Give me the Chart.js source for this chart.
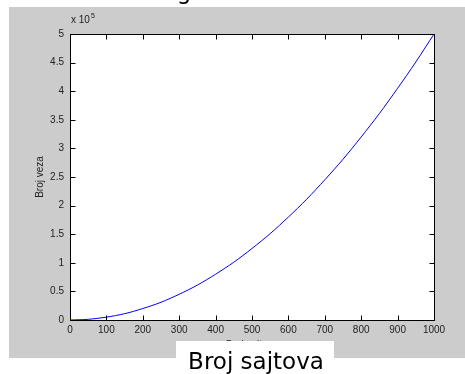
<!DOCTYPE html>
<html>
<head>
<meta charset="utf-8">
<script src="https://cdn.jsdelivr.net/npm/chart.js@4/dist/chart.umd.min.js"></script>
<style>
  body { margin: 0; background: #fff; }
  canvas { display: block; }
</style>
</head>
<body>
<canvas id="chart" width="465" height="374"></canvas>
<script>
// values
const brojSajtova = [0, 50, 100, 150, 200, 250, 300, 350, 400, 450, 500, 550, 600, 650, 700, 750, 800, 850, 900, 950, 1000];
const brojVeza = [0, 1200, 5000, 11000, 20000, 31000, 45000, 61000, 80000, 101000, 125000, 151000, 180000, 211000, 245000, 281000, 320000, 361000, 405000, 451000, 500000];
const xTicks = [0, 100, 200, 300, 400, 500, 600, 700, 800, 900, 1000];
const yTicks = [0, 50000, 100000, 150000, 200000, 250000, 300000, 350000, 400000, 450000, 500000];

const tickFont = "10px 'Liberation Sans', Arial, sans-serif";

// matlab-ish frame: grey figure, white axes, inward ticks on all sides
const matlabFrame = {
  id: "matlabFrame",
  beforeDraw(chart) {
    const { ctx, chartArea: a } = chart;
    ctx.save();
    ctx.fillStyle = "#ffffff";
    ctx.fillRect(0, 0, chart.width, chart.height);
    ctx.fillStyle = "#cccccc";
    ctx.fillRect(9, 7, chart.width - 9, 351);
    ctx.fillStyle = "#ffffff";
    ctx.fillRect(a.left, a.top, a.right - a.left, a.bottom - a.top);
    ctx.restore();
  },
  afterDraw(chart) {
    const { ctx, chartArea: a, scales } = chart;
    const L = Math.round(a.left) + 0.5, R = Math.round(a.right) + 0.5;
    const T = Math.round(a.top) + 0.5, B = Math.round(a.bottom) + 0.5;
    ctx.save();
    ctx.strokeStyle = "#000000";
    ctx.lineWidth = 1;
    ctx.strokeRect(L, T, R - L, B - T);
    ctx.beginPath();
    xTicks.forEach(v => {
      const x = Math.round(scales.x.getPixelForValue(v)) + 0.5;
      ctx.moveTo(x, B); ctx.lineTo(x, B - 5);
      ctx.moveTo(x, T); ctx.lineTo(x, T + 5);
    });
    yTicks.forEach(v => {
      const y = Math.round(scales.y.getPixelForValue(v)) + 0.5;
      ctx.moveTo(L, y); ctx.lineTo(L + 5, y);
      ctx.moveTo(R, y); ctx.lineTo(R - 5, y);
    });
    ctx.stroke();

    // exponent label
    ctx.fillStyle = "#222";
    ctx.font = tickFont;
    ctx.textBaseline = "alphabetic";
    ctx.textAlign = "left";
    ctx.fillText("x 10", 71, 23);
    ctx.font = "7px 'Liberation Sans', Arial, sans-serif";
    ctx.fillText("5", 91, 18);

    // axis titles
    ctx.font = tickFont;
    ctx.textAlign = "center";
    ctx.textBaseline = "middle";
    ctx.fillText("Broj sajtova", (a.left + a.right) / 2, 345);
    ctx.save();
    ctx.translate(40, (a.top + a.bottom) / 2);
    ctx.rotate(-Math.PI / 2);
    ctx.fillText("Broj veza", 0, 0);
    ctx.restore();

    // big caption box pasted over the bottom
    ctx.fillStyle = "#ffffff";
    ctx.fillRect(176, 341, 158, 33);
    ctx.fillStyle = "#000000";
    ctx.font = "23px 'DejaVu Sans', sans-serif";
    ctx.textBaseline = "alphabetic";
    ctx.fillText("Broj sajtova", 256, 369);
    // cut-off slide title above the figure
    ctx.fillText("g", 184, -1);
    ctx.restore();
  }
};

new Chart(document.getElementById("chart").getContext("2d"), {
  type: "scatter",
  data: {
    datasets: [{
      data: brojSajtova.map((x, i) => ({ x: x, y: brojVeza[i] })),
      showLine: true,
      borderColor: "#0000ff",
      borderWidth: 1,
      pointRadius: 0,
      tension: 0.3,
      fill: false,
    }]
  },
  options: {
    responsive: false,
    animation: false,
    devicePixelRatio: 1,
    layout: { padding: { left: 0, top: 34, right: 31, bottom: 0 } },
    plugins: { legend: { display: false }, tooltip: { enabled: false } },
    scales: {
      x: {
        type: "linear",
        min: 0,
        max: 1000,
        afterFit: s => { s.height = 54; },
        afterBuildTicks: s => { s.ticks = xTicks.map(v => ({ value: v })); },
        grid: { display: false, drawTicks: false },
        border: { display: false },
        ticks: {
          padding: 4,
          color: "#222",
          font: { family: "'Liberation Sans', Arial, sans-serif", size: 10 },
          maxRotation: 0,
          callback: v => String(v),
        },
      },
      y: {
        type: "linear",
        min: 0,
        max: 500000,
        afterFit: s => { s.width = 70; },
        afterBuildTicks: s => { s.ticks = yTicks.map(v => ({ value: v })); },
        grid: { display: false, drawTicks: false },
        border: { display: false },
        ticks: {
          padding: 6,
          color: "#222",
          font: { family: "'Liberation Sans', Arial, sans-serif", size: 10 },
          callback: v => String(v / 100000),
        },
      }
    }
  },
  plugins: [matlabFrame]
});
</script>
</body>
</html>
